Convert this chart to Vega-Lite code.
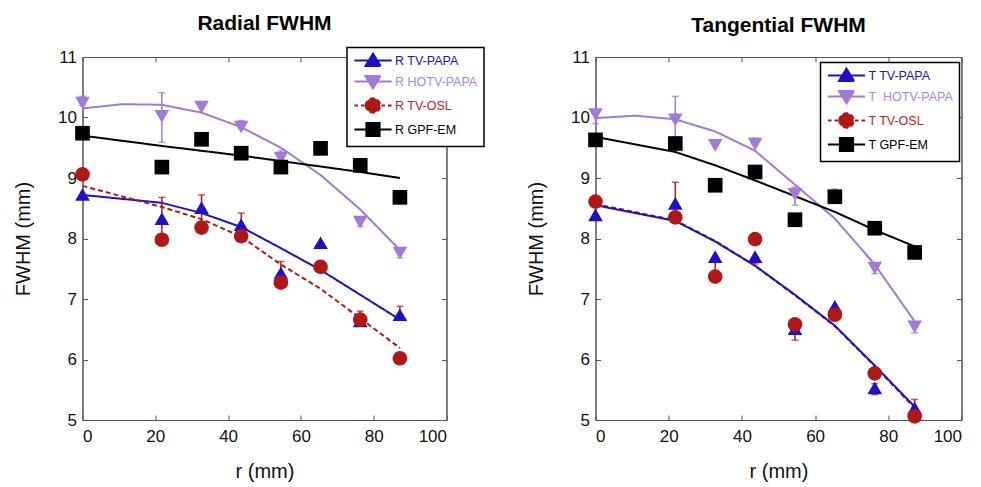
{
  "$schema": "https://vega.github.io/schema/vega-lite/v6.json",
  "padding": {"left": 12.5, "top": 12, "right": 5, "bottom": 5},
  "spacing": 40,
  "datasets": {
    "pts": [
      {"panel": "R", "series": "R HOTV-PAPA", "r": 0, "v": 10.24},
      {"panel": "R", "series": "R HOTV-PAPA", "r": 21.8, "v": 10.02},
      {"panel": "R", "series": "R HOTV-PAPA", "r": 32.7, "v": 10.17},
      {"panel": "R", "series": "R HOTV-PAPA", "r": 43.6, "v": 9.84},
      {"panel": "R", "series": "R HOTV-PAPA", "r": 54.5, "v": 9.33},
      {"panel": "R", "series": "R HOTV-PAPA", "r": 65.4, "v": 9.5},
      {"panel": "R", "series": "R HOTV-PAPA", "r": 76.3, "v": 8.27},
      {"panel": "R", "series": "R HOTV-PAPA", "r": 87.2, "v": 7.76},
      {"panel": "R", "series": "R TV-PAPA", "r": 0, "v": 8.73},
      {"panel": "R", "series": "R TV-PAPA", "r": 21.8, "v": 8.33},
      {"panel": "R", "series": "R TV-PAPA", "r": 32.7, "v": 8.51},
      {"panel": "R", "series": "R TV-PAPA", "r": 43.6, "v": 8.23},
      {"panel": "R", "series": "R TV-PAPA", "r": 54.5, "v": 7.43},
      {"panel": "R", "series": "R TV-PAPA", "r": 65.4, "v": 7.93},
      {"panel": "R", "series": "R TV-PAPA", "r": 76.3, "v": 6.64},
      {"panel": "R", "series": "R TV-PAPA", "r": 87.2, "v": 6.74},
      {"panel": "R", "series": "R TV-OSL", "r": 0, "v": 9.06},
      {"panel": "R", "series": "R TV-OSL", "r": 21.8, "v": 7.98},
      {"panel": "R", "series": "R TV-OSL", "r": 32.7, "v": 8.18},
      {"panel": "R", "series": "R TV-OSL", "r": 43.6, "v": 8.04},
      {"panel": "R", "series": "R TV-OSL", "r": 54.5, "v": 7.27},
      {"panel": "R", "series": "R TV-OSL", "r": 65.4, "v": 7.53},
      {"panel": "R", "series": "R TV-OSL", "r": 76.3, "v": 6.66},
      {"panel": "R", "series": "R TV-OSL", "r": 87.2, "v": 6.02},
      {"panel": "R", "series": "R GPF-EM", "r": 0, "v": 9.74},
      {"panel": "R", "series": "R GPF-EM", "r": 21.8, "v": 9.18},
      {"panel": "R", "series": "R GPF-EM", "r": 32.7, "v": 9.64},
      {"panel": "R", "series": "R GPF-EM", "r": 43.6, "v": 9.41},
      {"panel": "R", "series": "R GPF-EM", "r": 54.5, "v": 9.18},
      {"panel": "R", "series": "R GPF-EM", "r": 65.4, "v": 9.49},
      {"panel": "R", "series": "R GPF-EM", "r": 76.3, "v": 9.21},
      {"panel": "R", "series": "R GPF-EM", "r": 87.2, "v": 8.68},
      {"panel": "T", "series": "T\u00a0 HOTV-PAPA", "r": 0, "v": 10.05},
      {"panel": "T", "series": "T\u00a0 HOTV-PAPA", "r": 21.8, "v": 9.96},
      {"panel": "T", "series": "T\u00a0 HOTV-PAPA", "r": 32.7, "v": 9.54},
      {"panel": "T", "series": "T\u00a0 HOTV-PAPA", "r": 43.6, "v": 9.56},
      {"panel": "T", "series": "T\u00a0 HOTV-PAPA", "r": 54.5, "v": 8.73},
      {"panel": "T", "series": "T\u00a0 HOTV-PAPA", "r": 65.4, "v": 8.7},
      {"panel": "T", "series": "T\u00a0 HOTV-PAPA", "r": 76.3, "v": 7.51},
      {"panel": "T", "series": "T\u00a0 HOTV-PAPA", "r": 87.2, "v": 6.54},
      {"panel": "T", "series": "T TV-PAPA", "r": 0, "v": 8.39},
      {"panel": "T", "series": "T TV-PAPA", "r": 21.8, "v": 8.58},
      {"panel": "T", "series": "T TV-PAPA", "r": 32.7, "v": 7.7},
      {"panel": "T", "series": "T TV-PAPA", "r": 43.6, "v": 7.7},
      {"panel": "T", "series": "T TV-PAPA", "r": 54.5, "v": 6.51},
      {"panel": "T", "series": "T TV-PAPA", "r": 65.4, "v": 6.88},
      {"panel": "T", "series": "T TV-PAPA", "r": 76.3, "v": 5.53},
      {"panel": "T", "series": "T TV-PAPA", "r": 87.2, "v": 5.2},
      {"panel": "T", "series": "T TV-OSL", "r": 0, "v": 8.61},
      {"panel": "T", "series": "T TV-OSL", "r": 21.8, "v": 8.35},
      {"panel": "T", "series": "T TV-OSL", "r": 32.7, "v": 7.37},
      {"panel": "T", "series": "T TV-OSL", "r": 43.6, "v": 7.99},
      {"panel": "T", "series": "T TV-OSL", "r": 54.5, "v": 6.58},
      {"panel": "T", "series": "T TV-OSL", "r": 65.4, "v": 6.74},
      {"panel": "T", "series": "T TV-OSL", "r": 76.3, "v": 5.77},
      {"panel": "T", "series": "T TV-OSL", "r": 87.2, "v": 5.06},
      {"panel": "T", "series": "T GPF-EM", "r": 0, "v": 9.63},
      {"panel": "T", "series": "T GPF-EM", "r": 21.8, "v": 9.57},
      {"panel": "T", "series": "T GPF-EM", "r": 32.7, "v": 8.88},
      {"panel": "T", "series": "T GPF-EM", "r": 43.6, "v": 9.1},
      {"panel": "T", "series": "T GPF-EM", "r": 54.5, "v": 8.31},
      {"panel": "T", "series": "T GPF-EM", "r": 65.4, "v": 8.69},
      {"panel": "T", "series": "T GPF-EM", "r": 76.3, "v": 8.17},
      {"panel": "T", "series": "T GPF-EM", "r": 87.2, "v": 7.77}
    ],
    "fit": [
      {"panel": "R", "series": "R HOTV-PAPA", "r": 0, "v": 10.15},
      {"panel": "R", "series": "R HOTV-PAPA", "r": 10.9, "v": 10.22},
      {"panel": "R", "series": "R HOTV-PAPA", "r": 21.8, "v": 10.21},
      {"panel": "R", "series": "R HOTV-PAPA", "r": 32.7, "v": 10.08},
      {"panel": "R", "series": "R HOTV-PAPA", "r": 43.6, "v": 9.84},
      {"panel": "R", "series": "R HOTV-PAPA", "r": 54.5, "v": 9.5},
      {"panel": "R", "series": "R HOTV-PAPA", "r": 65.4, "v": 9.05},
      {"panel": "R", "series": "R HOTV-PAPA", "r": 76.3, "v": 8.48},
      {"panel": "R", "series": "R HOTV-PAPA", "r": 87.2, "v": 7.81},
      {"panel": "R", "series": "R TV-PAPA", "r": 0, "v": 8.72},
      {"panel": "R", "series": "R TV-PAPA", "r": 21.8, "v": 8.59},
      {"panel": "R", "series": "R TV-PAPA", "r": 32.7, "v": 8.42},
      {"panel": "R", "series": "R TV-PAPA", "r": 43.6, "v": 8.19},
      {"panel": "R", "series": "R TV-PAPA", "r": 54.5, "v": 7.84},
      {"panel": "R", "series": "R TV-PAPA", "r": 65.4, "v": 7.48},
      {"panel": "R", "series": "R TV-PAPA", "r": 76.3, "v": 7.07},
      {"panel": "R", "series": "R TV-PAPA", "r": 87.2, "v": 6.66},
      {"panel": "R", "series": "R TV-OSL", "r": 0, "v": 8.87},
      {"panel": "R", "series": "R TV-OSL", "r": 21.8, "v": 8.52},
      {"panel": "R", "series": "R TV-OSL", "r": 32.7, "v": 8.32},
      {"panel": "R", "series": "R TV-OSL", "r": 43.6, "v": 8.03},
      {"panel": "R", "series": "R TV-OSL", "r": 54.5, "v": 7.57},
      {"panel": "R", "series": "R TV-OSL", "r": 65.4, "v": 7.17},
      {"panel": "R", "series": "R TV-OSL", "r": 76.3, "v": 6.68},
      {"panel": "R", "series": "R TV-OSL", "r": 87.2, "v": 6.19},
      {"panel": "R", "series": "R GPF-EM", "r": 0, "v": 9.7},
      {"panel": "R", "series": "R GPF-EM", "r": 21.8, "v": 9.53},
      {"panel": "R", "series": "R GPF-EM", "r": 32.7, "v": 9.45},
      {"panel": "R", "series": "R GPF-EM", "r": 43.6, "v": 9.37},
      {"panel": "R", "series": "R GPF-EM", "r": 54.5, "v": 9.28},
      {"panel": "R", "series": "R GPF-EM", "r": 65.4, "v": 9.19},
      {"panel": "R", "series": "R GPF-EM", "r": 76.3, "v": 9.1},
      {"panel": "R", "series": "R GPF-EM", "r": 87.2, "v": 9.0},
      {"panel": "T", "series": "T\u00a0 HOTV-PAPA", "r": 0, "v": 9.99},
      {"panel": "T", "series": "T\u00a0 HOTV-PAPA", "r": 10.9, "v": 10.03},
      {"panel": "T", "series": "T\u00a0 HOTV-PAPA", "r": 21.8, "v": 9.97},
      {"panel": "T", "series": "T\u00a0 HOTV-PAPA", "r": 32.7, "v": 9.77},
      {"panel": "T", "series": "T\u00a0 HOTV-PAPA", "r": 43.6, "v": 9.45},
      {"panel": "T", "series": "T\u00a0 HOTV-PAPA", "r": 54.5, "v": 8.89},
      {"panel": "T", "series": "T\u00a0 HOTV-PAPA", "r": 65.4, "v": 8.33},
      {"panel": "T", "series": "T\u00a0 HOTV-PAPA", "r": 76.3, "v": 7.57},
      {"panel": "T", "series": "T\u00a0 HOTV-PAPA", "r": 87.2, "v": 6.63},
      {"panel": "T", "series": "T TV-OSL", "r": 0, "v": 8.57},
      {"panel": "T", "series": "T TV-OSL", "r": 21.8, "v": 8.3},
      {"panel": "T", "series": "T TV-OSL", "r": 32.7, "v": 7.96},
      {"panel": "T", "series": "T TV-OSL", "r": 43.6, "v": 7.55},
      {"panel": "T", "series": "T TV-OSL", "r": 54.5, "v": 7.06},
      {"panel": "T", "series": "T TV-OSL", "r": 65.4, "v": 6.55},
      {"panel": "T", "series": "T TV-OSL", "r": 76.3, "v": 5.89},
      {"panel": "T", "series": "T TV-OSL", "r": 87.2, "v": 5.2},
      {"panel": "T", "series": "T TV-PAPA", "r": 0, "v": 8.55},
      {"panel": "T", "series": "T TV-PAPA", "r": 21.8, "v": 8.29},
      {"panel": "T", "series": "T TV-PAPA", "r": 32.7, "v": 7.95},
      {"panel": "T", "series": "T TV-PAPA", "r": 43.6, "v": 7.55},
      {"panel": "T", "series": "T TV-PAPA", "r": 54.5, "v": 7.07},
      {"panel": "T", "series": "T TV-PAPA", "r": 65.4, "v": 6.56},
      {"panel": "T", "series": "T TV-PAPA", "r": 76.3, "v": 5.9},
      {"panel": "T", "series": "T TV-PAPA", "r": 87.2, "v": 5.22},
      {"panel": "T", "series": "T GPF-EM", "r": 0, "v": 9.68},
      {"panel": "T", "series": "T GPF-EM", "r": 21.8, "v": 9.43},
      {"panel": "T", "series": "T GPF-EM", "r": 32.7, "v": 9.21},
      {"panel": "T", "series": "T GPF-EM", "r": 43.6, "v": 8.96},
      {"panel": "T", "series": "T GPF-EM", "r": 54.5, "v": 8.7},
      {"panel": "T", "series": "T GPF-EM", "r": 65.4, "v": 8.44},
      {"panel": "T", "series": "T GPF-EM", "r": 76.3, "v": 8.14},
      {"panel": "T", "series": "T GPF-EM", "r": 87.2, "v": 7.87}
    ],
    "err": [
      {"panel": "R", "series": "R HOTV-PAPA", "r": 0, "lo": 10.2, "hi": 10.35},
      {"panel": "R", "series": "R HOTV-PAPA", "r": 21.8, "lo": 9.59, "hi": 10.41},
      {"panel": "R", "series": "R HOTV-PAPA", "r": 43.6, "lo": 9.82, "hi": 9.95},
      {"panel": "R", "series": "R HOTV-PAPA", "r": 54.5, "lo": 9.3, "hi": 9.45},
      {"panel": "R", "series": "R HOTV-PAPA", "r": 65.4, "lo": 9.48, "hi": 9.6},
      {"panel": "R", "series": "R HOTV-PAPA", "r": 76.3, "lo": 8.2, "hi": 8.36},
      {"panel": "R", "series": "R HOTV-PAPA", "r": 87.2, "lo": 7.68, "hi": 7.84},
      {"panel": "R", "series": "R TV-OSL", "r": 21.8, "lo": 8.03, "hi": 8.68},
      {"panel": "R", "series": "R TV-OSL", "r": 32.7, "lo": 8.2, "hi": 8.72},
      {"panel": "R", "series": "R TV-OSL", "r": 43.6, "lo": 8.05, "hi": 8.42},
      {"panel": "R", "series": "R TV-OSL", "r": 54.5, "lo": 7.3, "hi": 7.62},
      {"panel": "R", "series": "R TV-OSL", "r": 76.3, "lo": 6.62, "hi": 6.8},
      {"panel": "R", "series": "R TV-OSL", "r": 87.2, "lo": 6.74, "hi": 6.88},
      {"panel": "T", "series": "T\u00a0 HOTV-PAPA", "r": 0, "lo": 9.9, "hi": 10.12},
      {"panel": "T", "series": "T\u00a0 HOTV-PAPA", "r": 21.8, "lo": 9.68, "hi": 10.35},
      {"panel": "T", "series": "T\u00a0 HOTV-PAPA", "r": 43.6, "lo": 9.54, "hi": 9.66},
      {"panel": "T", "series": "T\u00a0 HOTV-PAPA", "r": 54.5, "lo": 8.55, "hi": 8.85},
      {"panel": "T", "series": "T\u00a0 HOTV-PAPA", "r": 65.4, "lo": 8.7, "hi": 8.82},
      {"panel": "T", "series": "T\u00a0 HOTV-PAPA", "r": 76.3, "lo": 7.42, "hi": 7.54},
      {"panel": "T", "series": "T\u00a0 HOTV-PAPA", "r": 87.2, "lo": 6.44, "hi": 6.58},
      {"panel": "T", "series": "T TV-OSL", "r": 21.8, "lo": 8.35, "hi": 8.93},
      {"panel": "T", "series": "T TV-OSL", "r": 32.7, "lo": 7.37, "hi": 7.7},
      {"panel": "T", "series": "T TV-OSL", "r": 43.6, "lo": 7.58, "hi": 7.7},
      {"panel": "T", "series": "T TV-OSL", "r": 54.5, "lo": 6.32, "hi": 6.55},
      {"panel": "T", "series": "T TV-OSL", "r": 76.3, "lo": 5.42, "hi": 5.6},
      {"panel": "T", "series": "T TV-OSL", "r": 87.2, "lo": 5.1, "hi": 5.34}
    ]
  },
  "hconcat": [
    {
      "width": 364,
      "height": 363,
      "title": {"text": "Radial FWHM"},
      "layer": [
        {
          "data": {"name": "fit"},
          "transform": [{"filter": "datum.panel === 'R'"}],
          "mark": {"type": "line", "strokeWidth": 2},
          "encoding": {
            "x": {"field": "r", "type": "quantitative", "scale": {"domain": [0, 100], "nice": false},
                  "axis": {"orient": "top", "labels": false, "title": null, "values": [0, 20, 40, 60, 80, 100]}},
            "y": {"field": "v", "type": "quantitative", "scale": {"domain": [5, 11], "nice": false},
                  "axis": {"orient": "right", "labels": false, "title": null, "values": [5, 6, 7, 8, 9, 10, 11]}},
            "color": {"field": "series", "type": "nominal",
                      "scale": {"domain": ["R TV-PAPA", "R HOTV-PAPA", "R TV-OSL", "R GPF-EM"], "range": ["#2010c4", "#a07ad6", "#b01818", "#000000"]},
                      "legend": {"orient": "none", "legendX": 264.5, "legendY": -9.5,
                        "encode": {
                          "legend": {"update": {"strokeWidth": {"value": 1.5}}},
                          "symbols": {"update": {
                            "shape": {"signal": "['M-3.1,0H3.1M-1.25,0.9L1.25,0.9L0,-1.15Z','M-3.1,0H3.1M-1.25,-0.9L1.25,-0.9L0,1.15Z','M-3.1,0H-2.5M-2.0,0H-1.4M1.4,0H2.0M2.5,0H3.1M-1.2,0A1.2,1.2,0,1,0,1.2,0A1.2,1.2,0,1,0,-1.2,0Z','M-3.1,0H3.1M-1.1,-1.1H1.1V1.1H-1.1Z'][datum.index]"},
                            "fill": {"signal": "['#2010c4','#a07ad6','#b01818','#000000'][datum.index]"},
                            "stroke": {"signal": "['#2010c4','#a07ad6','#b01818','#000000'][datum.index]"},
                            "size": {"value": 144},
                            "strokeDash": {"value": [1, 0]},
                            "strokeWidth": {"value": 2},
                            "opacity": {"value": 1}
                          }},
                          "labels": {"update": {"fill": {"signal": "['#2010c4','#a888dd','#c02020','#000000'][datum.index]"}}}
                        }}},
            "strokeDash": {"field": "series", "type": "nominal",
                           "scale": {"domain": ["R TV-PAPA", "R HOTV-PAPA", "R TV-OSL", "R GPF-EM"], "range": [[1, 0], [1, 0], [5, 3], [1, 0]]},
                           "legend": null}
          }
        },
        {
          "data": {"name": "err"},
          "transform": [{"filter": "datum.panel === 'R'"}],
          "mark": {"type": "rule", "strokeWidth": 1.5},
          "encoding": {
            "x": {"field": "r", "type": "quantitative", "axis": null},
            "y": {"field": "lo", "type": "quantitative", "axis": null},
            "y2": {"field": "hi"},
            "color": {"field": "series", "type": "nominal"}
          }
        },
        {
          "data": {"name": "err"},
          "transform": [{"filter": "datum.panel === 'R'"}],
          "mark": {"type": "tick", "orient": "horizontal", "size": 7, "thickness": 1.5},
          "encoding": {
            "x": {"field": "r", "type": "quantitative", "axis": null},
            "y": {"field": "hi", "type": "quantitative", "axis": null},
            "color": {"field": "series", "type": "nominal"}
          }
        },
        {
          "data": {"name": "err"},
          "transform": [{"filter": "datum.panel === 'R'"}],
          "mark": {"type": "tick", "orient": "horizontal", "size": 7, "thickness": 1.5},
          "encoding": {
            "x": {"field": "r", "type": "quantitative", "axis": null},
            "y": {"field": "lo", "type": "quantitative", "axis": null},
            "color": {"field": "series", "type": "nominal"}
          }
        },
        {
          "data": {"name": "pts"},
          "transform": [{"filter": "datum.series === 'R HOTV-PAPA'"}],
          "mark": {"type": "point", "shape": "triangle-down", "filled": true, "opacity": 1, "size": 215},
          "encoding": {
            "x": {"field": "r", "type": "quantitative", "axis": null},
            "y": {"field": "v", "type": "quantitative", "axis": null},
            "color": {"field": "series", "type": "nominal"}
          }
        },
        {
          "data": {"name": "pts"},
          "transform": [{"filter": "datum.series === 'R TV-PAPA'"}],
          "mark": {"type": "point", "shape": "triangle-up", "filled": true, "opacity": 1, "size": 215},
          "encoding": {
            "x": {"field": "r", "type": "quantitative", "axis": null},
            "y": {"field": "v", "type": "quantitative", "axis": null},
            "color": {"field": "series", "type": "nominal"}
          }
        },
        {
          "data": {"name": "pts"},
          "transform": [{"filter": "datum.series === 'R TV-OSL'"}],
          "mark": {"type": "point", "shape": "circle", "filled": true, "opacity": 1, "size": 215},
          "encoding": {
            "x": {"field": "r", "type": "quantitative", "axis": null},
            "y": {"field": "v", "type": "quantitative", "axis": null},
            "color": {"field": "series", "type": "nominal"}
          }
        },
        {
          "data": {"name": "pts"},
          "transform": [{"filter": "datum.series === 'R GPF-EM'"}],
          "mark": {"type": "point", "shape": "square", "filled": true, "opacity": 1, "size": 215},
          "encoding": {
            "x": {"field": "r", "type": "quantitative", "axis": {"orient": "bottom", "title": "r (mm)", "values": [0, 20, 40, 60, 80, 100], "labelPadding": 13, "titlePadding": 17}},
            "y": {"field": "v", "type": "quantitative", "axis": {"orient": "left", "title": "FWHM (mm)", "values": [5, 6, 7, 8, 9, 10, 11], "labelPadding": 11, "titlePadding": 24}},
            "color": {"field": "series", "type": "nominal"}
          }
        }
      ],
      "resolve": {"axis": {"x": "independent", "y": "independent"}}
    },
    {
      "width": 366,
      "height": 363,
      "title": {"text": "Tangential FWHM"},
      "layer": [
        {
          "data": {"name": "fit"},
          "transform": [{"filter": "datum.panel === 'T'"}],
          "mark": {"type": "line", "strokeWidth": 2},
          "encoding": {
            "x": {"field": "r", "type": "quantitative", "scale": {"domain": [0, 100], "nice": false},
                  "axis": {"orient": "top", "labels": false, "title": null, "values": [0, 20, 40, 60, 80, 100]}},
            "y": {"field": "v", "type": "quantitative", "scale": {"domain": [5, 11], "nice": false},
                  "axis": {"orient": "right", "labels": false, "title": null, "values": [5, 6, 7, 8, 9, 10, 11]}},
            "color": {"field": "series", "type": "nominal",
                      "scale": {"domain": ["T TV-PAPA", "T\u00a0 HOTV-PAPA", "T TV-OSL", "T GPF-EM"], "range": ["#2010c4", "#a07ad6", "#b01818", "#000000"]},
                      "legend": {"orient": "none", "legendX": 225, "legendY": 5.5,
                        "encode": {
                          "legend": {"update": {"strokeWidth": {"value": 1.5}}},
                          "symbols": {"update": {
                            "shape": {"signal": "['M-3.1,0H3.1M-1.25,0.9L1.25,0.9L0,-1.15Z','M-3.1,0H3.1M-1.25,-0.9L1.25,-0.9L0,1.15Z','M-3.1,0H-2.5M-2.0,0H-1.4M1.4,0H2.0M2.5,0H3.1M-1.2,0A1.2,1.2,0,1,0,1.2,0A1.2,1.2,0,1,0,-1.2,0Z','M-3.1,0H3.1M-1.1,-1.1H1.1V1.1H-1.1Z'][datum.index]"},
                            "fill": {"signal": "['#2010c4','#a07ad6','#b01818','#000000'][datum.index]"},
                            "stroke": {"signal": "['#2010c4','#a07ad6','#b01818','#000000'][datum.index]"},
                            "size": {"value": 144},
                            "strokeDash": {"value": [1, 0]},
                            "strokeWidth": {"value": 2},
                            "opacity": {"value": 1}
                          }},
                          "labels": {"update": {"fill": {"signal": "['#2010c4','#a888dd','#c02020','#000000'][datum.index]"}}}
                        }}},
            "strokeDash": {"field": "series", "type": "nominal",
                           "scale": {"domain": ["T TV-PAPA", "T\u00a0 HOTV-PAPA", "T TV-OSL", "T GPF-EM"], "range": [[1, 0], [1, 0], [5, 3], [1, 0]]},
                           "legend": null}
          }
        },
        {
          "data": {"name": "err"},
          "transform": [{"filter": "datum.panel === 'T'"}],
          "mark": {"type": "rule", "strokeWidth": 1.5},
          "encoding": {
            "x": {"field": "r", "type": "quantitative", "axis": null},
            "y": {"field": "lo", "type": "quantitative", "axis": null},
            "y2": {"field": "hi"},
            "color": {"field": "series", "type": "nominal"}
          }
        },
        {
          "data": {"name": "err"},
          "transform": [{"filter": "datum.panel === 'T'"}],
          "mark": {"type": "tick", "orient": "horizontal", "size": 7, "thickness": 1.5},
          "encoding": {
            "x": {"field": "r", "type": "quantitative", "axis": null},
            "y": {"field": "hi", "type": "quantitative", "axis": null},
            "color": {"field": "series", "type": "nominal"}
          }
        },
        {
          "data": {"name": "err"},
          "transform": [{"filter": "datum.panel === 'T'"}],
          "mark": {"type": "tick", "orient": "horizontal", "size": 7, "thickness": 1.5},
          "encoding": {
            "x": {"field": "r", "type": "quantitative", "axis": null},
            "y": {"field": "lo", "type": "quantitative", "axis": null},
            "color": {"field": "series", "type": "nominal"}
          }
        },
        {
          "data": {"name": "pts"},
          "transform": [{"filter": "datum.series === 'T\u00a0 HOTV-PAPA'"}],
          "mark": {"type": "point", "shape": "triangle-down", "filled": true, "opacity": 1, "size": 215},
          "encoding": {
            "x": {"field": "r", "type": "quantitative", "axis": null},
            "y": {"field": "v", "type": "quantitative", "axis": null},
            "color": {"field": "series", "type": "nominal"}
          }
        },
        {
          "data": {"name": "pts"},
          "transform": [{"filter": "datum.series === 'T TV-PAPA'"}],
          "mark": {"type": "point", "shape": "triangle-up", "filled": true, "opacity": 1, "size": 215},
          "encoding": {
            "x": {"field": "r", "type": "quantitative", "axis": null},
            "y": {"field": "v", "type": "quantitative", "axis": null},
            "color": {"field": "series", "type": "nominal"}
          }
        },
        {
          "data": {"name": "pts"},
          "transform": [{"filter": "datum.series === 'T TV-OSL'"}],
          "mark": {"type": "point", "shape": "circle", "filled": true, "opacity": 1, "size": 215},
          "encoding": {
            "x": {"field": "r", "type": "quantitative", "axis": null},
            "y": {"field": "v", "type": "quantitative", "axis": null},
            "color": {"field": "series", "type": "nominal"}
          }
        },
        {
          "data": {"name": "pts"},
          "transform": [{"filter": "datum.series === 'T GPF-EM'"}],
          "mark": {"type": "point", "shape": "square", "filled": true, "opacity": 1, "size": 215},
          "encoding": {
            "x": {"field": "r", "type": "quantitative", "axis": {"orient": "bottom", "title": "r (mm)", "values": [0, 20, 40, 60, 80, 100], "labelPadding": 13, "titlePadding": 17}},
            "y": {"field": "v", "type": "quantitative", "axis": {"orient": "left", "title": "FWHM (mm)", "values": [5, 6, 7, 8, 9, 10, 11], "labelPadding": 11, "titlePadding": 24}},
            "color": {"field": "series", "type": "nominal"}
          }
        }
      ],
      "resolve": {"axis": {"x": "independent", "y": "independent"}}
    }
  ],
  "resolve": {
    "scale": {"color": "independent", "strokeDash": "independent"},
    "legend": {"color": "independent"}
  },
  "config": {
    "font": "Liberation Sans",
    "view": {"stroke": "#555", "strokeWidth": 1},
    "title": {"font": "Liberation Sans", "fontSize": 21, "fontWeight": "bold", "color": "#000", "anchor": "middle", "offset": 12.5},
    "axis": {
      "labelFont": "Liberation Sans", "labelFontSize": 17, "labelColor": "#111",
      "titleFont": "Liberation Sans", "titleFontSize": 20, "titleFontWeight": "normal", "titleColor": "#111",
      "domainColor": "#555", "tickColor": "#555", "domainWidth": 1, "tickWidth": 1,
      "grid": false, "tickSize": -5
    },
    "axisY": {"labelAngle": 0},
    "legend": {
      "title": null,
      "fillColor": "white", "strokeColor": "black",
      "padding": 6, "rowPadding": 1,
      "symbolSize": 144, "symbolOffset": 13, "labelOffset": 15, "symbolStrokeWidth": 2,
      "labelFont": "Liberation Sans", "labelFontSize": 12.5
    }
  }
}
